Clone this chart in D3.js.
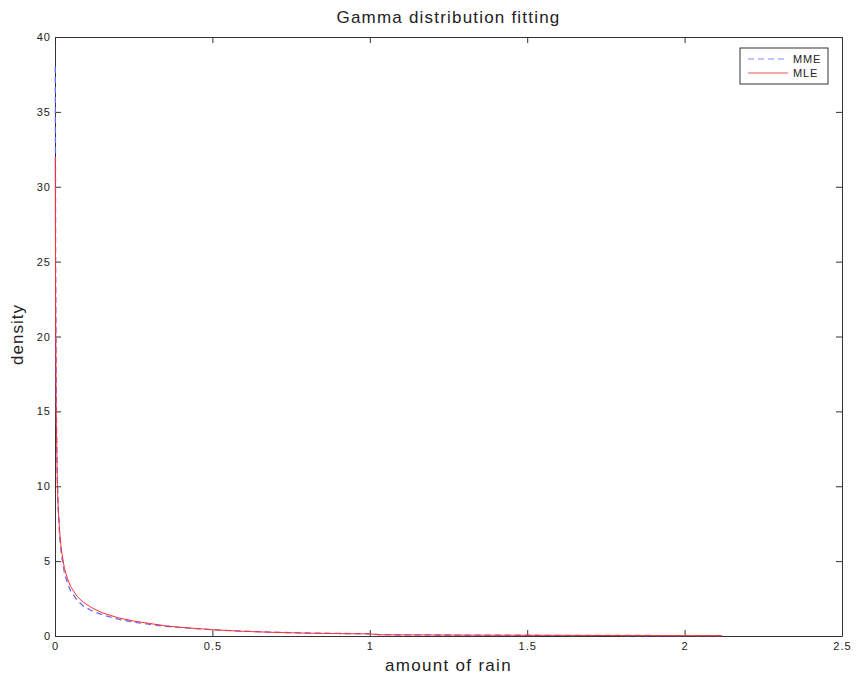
<!DOCTYPE html>
<html lang="en">
<head>
<meta charset="UTF-8">
<title>Gamma distribution fitting</title>
<script src="https://d3js.org/d3.v7.min.js"></script>
<style>
body { margin: 0; background: white; font-family: "Liberation Sans", Arial, Helvetica, sans-serif; }
.axis text { font-size: 11px; fill: #222; letter-spacing: 1px; font-family: "Liberation Sans", Arial, sans-serif; }
.axis path, .axis line { stroke: #333; }
</style>
</head>
<body>
<div id="chart"></div>
<script>
// amount of rain (x) where the fitted densities were read
var rainX = [0.001, 0.002, 0.004, 0.007, 0.01, 0.015, 0.02, 0.03, 0.04, 0.05, 0.07, 0.09, 0.12, 0.15, 0.2, 0.25, 0.3, 0.35, 0.4, 0.5, 0.6, 0.7, 0.8, 0.9, 1.0, 1.03, 1.2, 1.4, 1.6, 1.8, 2.0, 2.12];
// method of moments fit
var mme = [38, 25, 15.5, 10.8, 8.6, 6.6, 5.5, 4.2, 3.5, 3.0, 2.4, 2.0, 1.65, 1.42, 1.13, 0.93, 0.78, 0.65, 0.56, 0.42, 0.32, 0.25, 0.2, 0.17, 0.15, 0.09, 0.07, 0.055, 0.045, 0.035, 0.028, 0.023];
// maximum likelihood fit
var mle = [32, 22, 14.5, 10.5, 8.6, 6.9, 5.8, 4.5, 3.8, 3.3, 2.65, 2.25, 1.85, 1.55, 1.22, 1.0, 0.84, 0.68, 0.58, 0.42, 0.31, 0.24, 0.19, 0.16, 0.14, 0.08, 0.065, 0.05, 0.04, 0.03, 0.025, 0.02];
var xTicks = [0, 0.5, 1, 1.5, 2, 2.5];
var yTicks = [0, 5, 10, 15, 20, 25, 30, 35, 40];

var margin = {top: 37, right: 16, bottom: 41, left: 55},
    width = 858 - margin.left - margin.right,
    height = 677 - margin.top - margin.bottom;

var svg = d3.select("#chart")
  .append("svg")
    .attr("width", 858)
    .attr("height", 677)
  .append("g")
    .attr("transform", "translate(" + margin.left + "," + margin.top + ")");

var x = d3.scaleLinear().domain([0, 2.5]).range([0, width]);
var y = d3.scaleLinear().domain([0, 40]).range([height, 0]);

// box with inward ticks on all four sides
svg.append("g")
  .attr("class", "axis")
  .attr("transform", "translate(0," + height + ")")
  .call(d3.axisBottom(x).tickValues(xTicks).tickFormat(d3.format("")).tickSizeInner(-6).tickSizeOuter(0).tickPadding(6));
svg.append("g")
  .attr("class", "axis")
  .call(d3.axisLeft(y).tickValues(yTicks).tickSizeInner(-6).tickSizeOuter(0).tickPadding(4));
svg.append("g")
  .attr("class", "axis")
  .call(d3.axisTop(x).tickValues(xTicks).tickFormat("").tickSizeInner(-6).tickSizeOuter(0));
svg.append("g")
  .attr("class", "axis")
  .attr("transform", "translate(" + width + ",0)")
  .call(d3.axisRight(y).tickValues(yTicks).tickFormat("").tickSizeInner(-6).tickSizeOuter(0));

var line = function(vals) {
  return d3.line()
    .x(function(d, i) { return x(rainX[i]); })
    .y(function(d) { return y(d); })(vals);
};

svg.append("path")
  .attr("d", line(mme))
  .attr("fill", "none")
  .attr("stroke", "#6a6aff")
  .attr("stroke-width", 1.3)
  .attr("stroke-dasharray", "6,4");

svg.append("path")
  .attr("d", line(mle))
  .attr("fill", "none")
  .attr("stroke", "#ff3030")
  .attr("stroke-width", 1);

// title and axis labels
svg.append("text")
  .attr("x", width / 2)
  .attr("y", -14)
  .attr("text-anchor", "middle")
  .style("font-size", "17px")
  .style("letter-spacing", "1.2px")
  .style("fill", "#222")
  .text("Gamma distribution fitting");

svg.append("text")
  .attr("x", width / 2)
  .attr("y", height + 35)
  .attr("text-anchor", "middle")
  .style("font-size", "17px")
  .style("letter-spacing", "1.3px")
  .style("fill", "#222")
  .text("amount of rain");

svg.append("text")
  .attr("transform", "rotate(-90)")
  .attr("x", -height / 2 + 2)
  .attr("y", -32)
  .attr("text-anchor", "middle")
  .style("font-size", "17px")
  .style("letter-spacing", "1px")
  .style("fill", "#222")
  .text("density");

// legend
var legend = svg.append("g").attr("transform", "translate(" + (width - 102) + ",11)");
legend.append("rect")
  .attr("width", 88).attr("height", 36)
  .attr("fill", "white").attr("stroke", "#333");
var items = [
  {name: "MME", color: "#aab0ff", dash: "6,4", w: 1.5},
  {name: "MLE", color: "#ff5050", dash: null, w: 1}
];
items.forEach(function(it, i) {
  var yy = 11 + i * 14;
  legend.append("line")
    .attr("x1", 8).attr("x2", 48).attr("y1", yy).attr("y2", yy)
    .attr("stroke", it.color).attr("stroke-width", it.w)
    .attr("stroke-dasharray", it.dash);
  legend.append("text")
    .attr("x", 53).attr("y", yy + 4)
    .style("font-size", "11px").style("letter-spacing", "0.8px").style("fill", "#222")
    .text(it.name);
});
</script>
</body>
</html>
